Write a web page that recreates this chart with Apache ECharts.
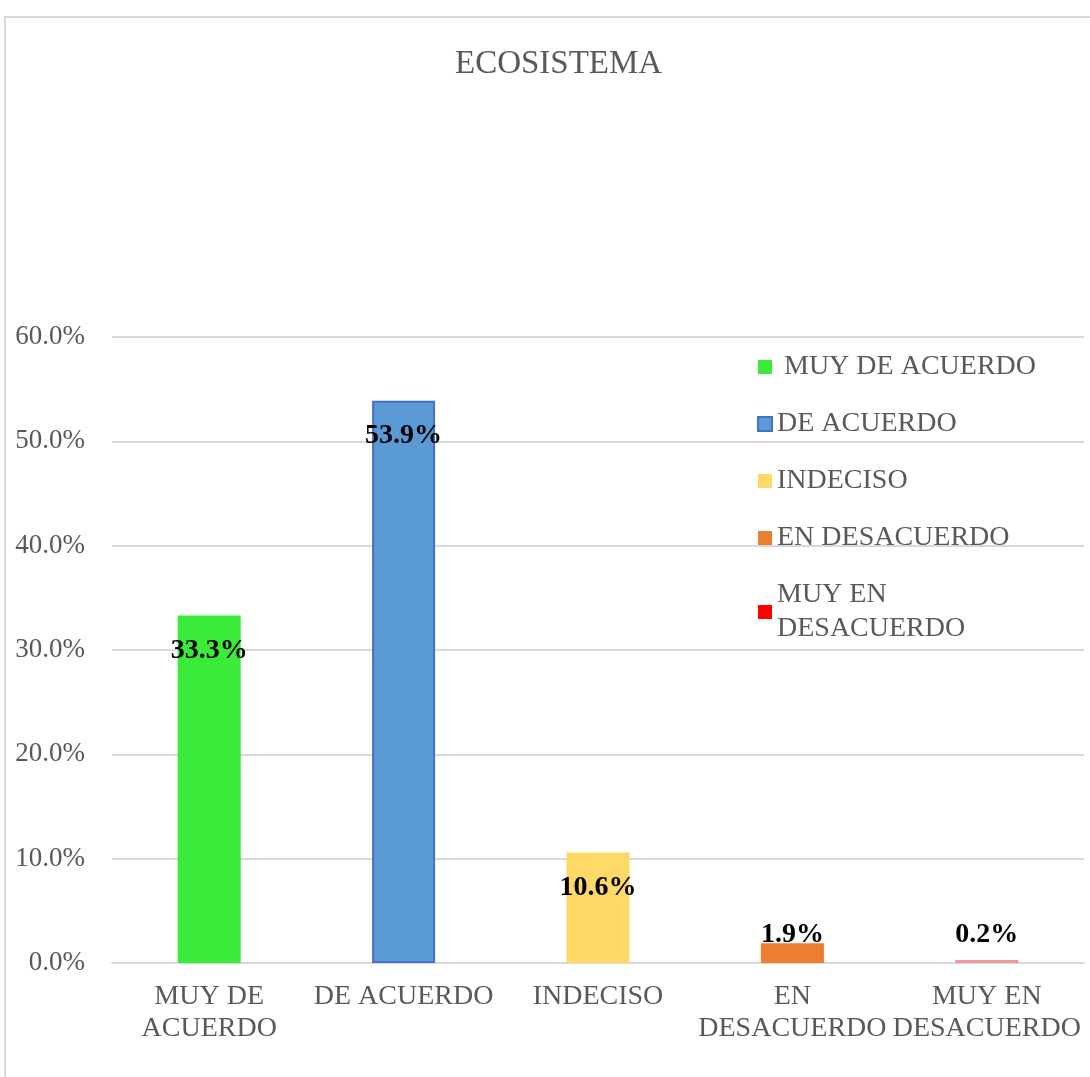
<!DOCTYPE html>
<html>
<head>
<meta charset="utf-8">
<script src="https://cdn.jsdelivr.net/npm/echarts@6/dist/echarts.min.js"></script>
<style>
  html, body { margin: 0; padding: 0; background: #fff; }
  #chart { width: 1090px; height: 1077px; }
</style>
</head>
<body>
<div id="chart"></div>
<script>
var categories = ['MUY DE ACUERDO', 'DE ACUERDO', 'INDECISO', 'EN DESACUERDO', 'MUY EN DESACUERDO'];
var tickLabels = ['MUY DE\nACUERDO', 'DE ACUERDO', 'INDECISO', 'EN\nDESACUERDO', 'MUY EN\nDESACUERDO'];
var legendLabels = [' MUY DE ACUERDO', 'DE ACUERDO', 'INDECISO', 'EN DESACUERDO', 'MUY EN\nDESACUERDO'];
var values = [33.3, 53.9, 10.6, 1.9, 0.2];
var yTicks = [0, 10, 20, 30, 40, 50, 60];

var barColors = ['#3aeb3a', '#5b9bd5', '#ffd966', '#ed7d31', '#f09898'];
var legendColors = ['#3aeb3a', '#5b9bd5', '#ffd966', '#ed7d31', '#ff0000'];
var borderColors = [null, '#4472c4', null, null, null];

var font = '"Liberation Serif", "Times New Roman", serif';
var gray = '#595959';

var myChart = echarts.init(document.getElementById('chart'));

var series = categories.map(function (name, i) {
    var data = categories.map(function (c, j) { return j === i ? values[j] : null; });
    var small = values[i] < 5;
    return {
        name: name,
        type: 'bar',
        barWidth: 63,
        barGap: '-100%',
        barMinHeight: 3,
        data: data,
        itemStyle: {
            color: barColors[i],
            borderColor: borderColors[i] || barColors[i],
            borderWidth: borderColors[i] ? 2 : 0
        },
        label: {
            show: true,
            position: small ? 'insideBottom' : 'insideTop',
            distance: small ? 14 : 21,
            color: '#000',
            fontFamily: font,
            fontWeight: 'bold',
            fontSize: 28,
            formatter: function (p) { return p.value.toFixed(1) + '%'; }
        }
    };
});

var option = {
    animation: false,
    backgroundColor: '#fff',
    graphic: [{
        type: 'rect',
        shape: { x: 5, y: 17, width: 1200, height: 1200 },
        style: { fill: 'none', stroke: '#d9d9d9', lineWidth: 2 },
        silent: true
    }],
    title: {
        text: 'ECOSISTEMA',
        left: 450,
        top: 43,
        textStyle: { fontFamily: font, fontWeight: 'normal', fontSize: 33, color: gray }
    },
    legend: {
        orient: 'vertical',
        left: 752,
        top: 345,
        itemWidth: 14,
        itemHeight: 14,
        itemGap: 23,
        icon: 'rect',
        data: categories.map(function (c, i) {
            return { name: c, itemStyle: { color: legendColors[i], borderColor: borderColors[i] || legendColors[i], borderWidth: borderColors[i] ? 2 : 0 } };
        }),
        formatter: function (name) { return legendLabels[categories.indexOf(name)]; },
        textStyle: { fontFamily: font, fontSize: 28, color: gray, lineHeight: 34 }
    },
    grid: { left: 112, right: 6, top: 337, bottom: 114 },
    xAxis: {
        type: 'category',
        data: categories,
        axisTick: { show: false },
        axisLine: { lineStyle: { color: '#d9d9d9', width: 2 } },
        axisLabel: {
            interval: 0,
            margin: 18,
            fontFamily: font,
            fontSize: 28,
            lineHeight: 32,
            color: gray,
            formatter: function (v) { return tickLabels[categories.indexOf(v)]; }
        }
    },
    yAxis: {
        type: 'value',
        min: yTicks[0],
        max: yTicks[yTicks.length - 1],
        interval: 10,
        axisLine: { show: false },
        axisTick: { show: false },
        splitLine: { lineStyle: { color: '#d9d9d9', width: 2 } },
        axisLabel: {
            margin: 27,
            fontFamily: font,
            fontSize: 27,
            color: gray,
            formatter: function (v) { return v.toFixed(1) + '%'; }
        }
    },
    series: series
};

myChart.setOption(option);
window.addEventListener('resize', function () { myChart.resize(); });
</script>
</body>
</html>
